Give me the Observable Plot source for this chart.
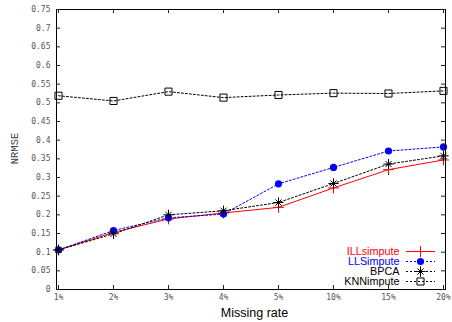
<!DOCTYPE html>
<html>
<head>
<meta charset="utf-8">
<script src="https://cdn.jsdelivr.net/npm/d3@7"></script>
<script src="https://cdn.jsdelivr.net/npm/@observablehq/plot@0.6"></script>
<style>
  html, body { margin: 0; padding: 0; background: #fff; }
  #chart svg { display: block; }
</style>
</head>
<body>
<div id="chart"></div>
<script>
// ---- data ----
const categories = ["1%", "2%", "3%", "4%", "5%", "10%", "15%", "20%"];
const illsimpute = [0.106, 0.153, 0.189, 0.205, 0.220, 0.272, 0.321, 0.347];
const llsimpute  = [0.106, 0.158, 0.192, 0.202, 0.283, 0.327, 0.371, 0.382];
const bpca       = [0.106, 0.149, 0.200, 0.211, 0.233, 0.284, 0.336, 0.358];
const knnimpute  = [0.519, 0.505, 0.530, 0.514, 0.521, 0.526, 0.525, 0.532];
const yTicks = [0, 0.05, 0.1, 0.15, 0.2, 0.25, 0.3, 0.35, 0.4, 0.45, 0.5, 0.55, 0.6, 0.65, 0.7, 0.75];
const seriesNames = ["ILLsimpute", "LLSimpute", "BPCA", "KNNimpute"];

// ---- layout ----
const W = 452, H = 322;
const mL = 56, mR = 7, mT = 9, mB = 33;
const fW = W - mL - mR, fH = H - mT - mB;
const tickLen = 4;
const monoFont = "'DejaVu Sans Mono', monospace";
const sansFont = "'Liberation Sans', Arial, sans-serif";

const rows = (vals) => categories.map((c, i) => ({x: c, y: vals[i]}));

const series = [
  {name: seriesNames[0], data: rows(illsimpute), color: "#ff0000", dash: null, symbols: [{s: "plus", r: 3.6}], fill: "none"},
  {name: seriesNames[1], data: rows(llsimpute), color: "#0000ff", dash: "2,2", symbols: [{s: "circle", r: 3.6}], fill: "#0000ff"},
  {name: seriesNames[2], data: rows(bpca), color: "#000000", dash: "2,2", symbols: [{s: "plus", r: 3.4}, {s: "times", r: 2.9}], fill: "none"},
  {name: seriesNames[3], data: rows(knnimpute), color: "#000000", dash: "2,2", symbols: [{s: "square", r: 4}], fill: "none"}
];

const symbolMark = (data, sym, s, extra) => sym.s === "circle"
  ? Plot.dot(data, {...extra, r: sym.r, symbol: "circle", fill: s.fill, stroke: "none"})
  : Plot.dot(data, {...extra, r: sym.r, symbol: sym.s, fill: "none", stroke: s.color, strokeWidth: 1});

const marks = [];
// lines
for (const s of series) {
  marks.push(Plot.line(s.data, {x: "x", y: "y", stroke: s.color, strokeWidth: 1, strokeDasharray: s.dash}));
}
// markers
for (const s of series) {
  for (const sym of s.symbols) marks.push(symbolMark(s.data, sym, s, {x: "x", y: "y"}));
}
// frame
marks.push(Plot.frame({stroke: "#000", strokeWidth: 1}));
// inward ticks (mirrored, gnuplot style)
marks.push(Plot.tickY(yTicks, {y: d => d, insetRight: fW - tickLen, stroke: "#222"}));
marks.push(Plot.tickY(yTicks, {y: d => d, insetLeft: fW - tickLen, stroke: "#222"}));
marks.push(Plot.tickX(categories, {x: d => d, insetTop: fH - tickLen, stroke: "#222"}));
marks.push(Plot.tickX(categories, {x: d => d, insetBottom: fH - tickLen, stroke: "#222"}));
// tick labels
marks.push(Plot.axisY(yTicks, {tickSize: 0, tickPadding: 6, label: null, fontFamily: monoFont, fontSize: 8, color: "#555", tickFormat: d => String(d)}));
marks.push(Plot.axisX(categories, {tickSize: 0, tickPadding: 5, label: null, fontFamily: monoFont, fontSize: 8, color: "#555"}));
// axis titles
marks.push(Plot.text(["NRMSE"], {frameAnchor: "left", dx: -42, dy: -1, rotate: -90, text: d => d, fontFamily: "'Liberation Mono', monospace", fontSize: 10.5, fill: "#444", textAnchor: "middle", lineAnchor: "middle"}));
marks.push(Plot.text(["Missing rate"], {frameAnchor: "bottom", dx: 3.5, dy: 23, text: d => d, fontFamily: sansFont, fontSize: 12.5, fill: "#000", textAnchor: "middle", lineAnchor: "middle"}));
// legend (bottom right, inside frame)
series.forEach((s, i) => {
  const dy = -38 + i * 10;
  marks.push(Plot.text([s.name], {frameAnchor: "bottom-right", dx: -46, dy, text: d => d, textAnchor: "end", lineAnchor: "middle", fontFamily: sansFont, fontSize: 10.8, fill: s.color}));
  marks.push(Plot.ruleY([0], {insetLeft: 350, insetRight: 10, dy, stroke: s.color, strokeWidth: 1, strokeDasharray: s.dash}));
  for (const sym of s.symbols) marks.push(symbolMark([0], sym, s, {frameAnchor: "bottom-right", dx: -25, dy}));
});

const chart = Plot.plot({
  width: W,
  height: H,
  marginLeft: mL,
  marginRight: mR,
  marginTop: mT,
  marginBottom: mB,
  style: {background: "#fff", overflow: "visible"},
  x: {type: "point", domain: categories, padding: 0, label: null},
  y: {type: "linear", domain: [0, 0.75], label: null},
  marks
});
document.getElementById("chart").appendChild(chart);
</script>
</body>
</html>
